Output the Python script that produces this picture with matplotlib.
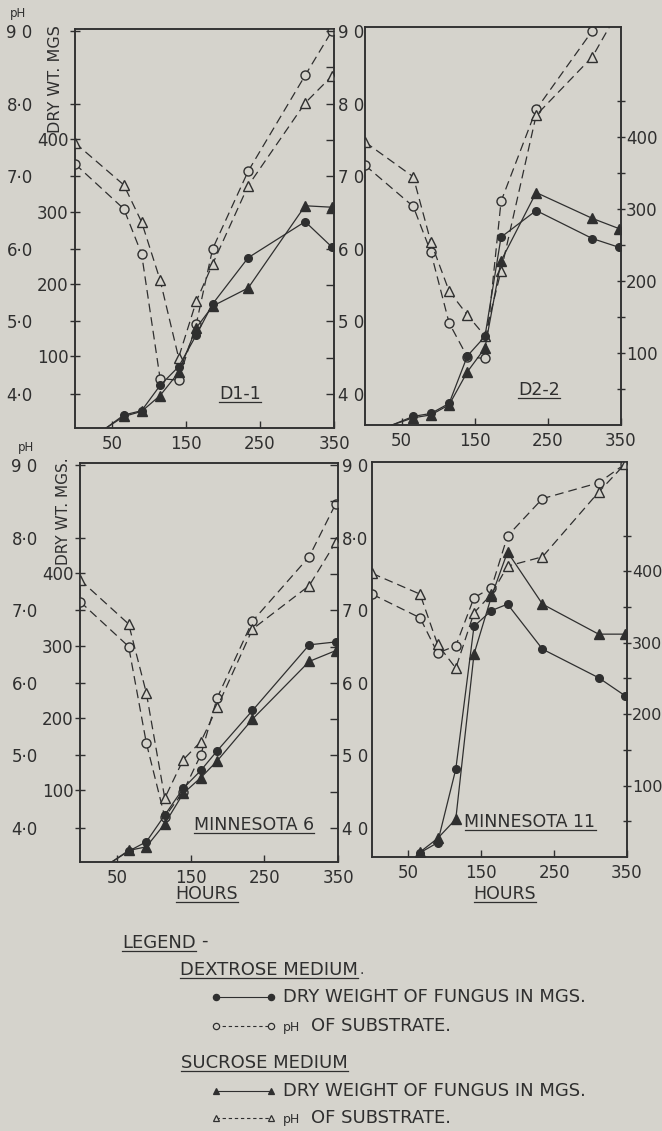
import numpy as np
import matplotlib
matplotlib.use("Agg")
import matplotlib.pyplot as plt
from matplotlib.lines import Line2D

# ---------------- data ----------------
HOURS = [0, 66, 90, 115, 140, 164, 186, 234, 311, 347]
X_TICKS = [50, 150, 250, 350]
PH_TICKS = [4, 5, 6, 7, 8, 9]
WT_TICKS = [100, 200, 300, 400]
PANEL_NAMES = ["D1-1", "D2-2", "MINNESOTA 6", "MINNESOTA 11"]

# pH of substrate (dextrose = circles, sucrose = triangles)
d11_ph_dex = [7.17, 6.55, 5.93, 4.21, 4.19, 4.97, 6.00, 7.07, 8.39, 9.00]
d11_ph_suc = [7.46, 6.88, 6.37, 5.57, 4.50, 5.28, 5.79, 6.87, 8.01, 8.38]
d22_ph_dex = [7.12, 6.55, 5.92, 4.94, 4.47, 4.45, 6.62, 7.89, 8.98, 9.35]
d22_ph_suc = [7.44, 6.96, 6.06, 5.38, 5.05, 4.76, 5.66, 7.81, 8.62, 9.26]
m6_ph_dex = [7.12, 6.50, 5.17, 4.15, 4.50, 5.01, 5.79, 6.85, 7.74, 8.47]
m6_ph_suc = [7.42, 6.81, 5.86, 4.41, 4.94, 5.19, 5.66, 6.74, 7.34, 7.94]
m11_ph_dex = [7.19, 6.86, 6.37, 6.47, 7.14, 7.28, 8.00, 8.52, 8.74, 9.00]
m11_ph_suc = [7.48, 7.19, 6.49, 6.16, 6.93, 7.19, 7.58, 7.71, 8.61, 9.00]

# dry weight of fungus in mgs (first sample not shown)
d11_wt_dex = [None, 18, 24, 59, 85, 129, 172, 236, 286, 251]
d11_wt_suc = [None, 16, 23, 45, 77, 139, 169, 194, 308, 306]
d22_wt_dex = [None, 12, 16, 30, 96, 123, 261, 298, 259, 247]
d22_wt_suc = [None, 10, 14, 28, 74, 107, 228, 323, 287, 273]
m6_wt_dex = [None, 15, 28, 65, 102, 127, 154, 210, 301, 305]
m6_wt_suc = [None, 16, 21, 53, 95, 117, 140, 198, 278, 293]
m11_wt_dex = [None, 6, 20, 123, 323, 345, 354, 291, 251, 226]
m11_wt_suc = [None, 7, 26, 53, 284, 365, 427, 354, 312, 312]

# hour at which the growth curves leave the zero line
WT_ORIGIN_HOURS = [42, 37, 43, None]

PH_LEFT_LABELS = [["4·0", "5·0", "6·0", "7·0", "8·0", "9 0"],
                  None,
                  ["4·0", "5·0", "6·0", "7·0", "8·0", "9 0"],
                  None]
PH_RIGHT_LABELS = [["4 0", "5 0", "6 0", "7 0", "8 0", "9 0"],
                   None,
                   ["4 0", "5 0", "6 0", "7 0", "8·0", "9 0"],
                   None]

# ---------------- style ----------------
BG = "#d5d3cc"
INK = "#2f2f2f"
W, H = 662, 1131
PH_LIM = (3.53, 9.03)
WT_LIM = (0, 553)
X_LIM = (0, 350)

plt.rcParams['font.family'] = ['DejaVu Sans']
fig = plt.figure(figsize=(W / 100, H / 100), dpi=100)
fig.patch.set_facecolor(BG)


def px_rect(l, t, r, b):
    return [l / W, 1 - b / H, (r - l) / W, (b - t) / H]


RECTS = [px_rect(75, 29, 334, 428), px_rect(365, 27, 621, 425),
         px_rect(80, 463, 338, 862), px_rect(372, 462, 627, 857)]
LEFT_SIDE = [True, False, True, False]

ph_dex_all = [d11_ph_dex, d22_ph_dex, m6_ph_dex, m11_ph_dex]
ph_suc_all = [d11_ph_suc, d22_ph_suc, m6_ph_suc, m11_ph_suc]
wt_dex_all = [d11_wt_dex, d22_wt_dex, m6_wt_dex, m11_wt_dex]
wt_suc_all = [d11_wt_suc, d22_wt_suc, m6_wt_suc, m11_wt_suc]

DASH = (0, (7, 4))
LW = 0.9

for i in range(4):
    ax = fig.add_axes(RECTS[i])
    ax.set_facecolor('none')
    ax.set_xlim(X_LIM)
    ax.set_ylim(PH_LIM)
    axw = ax.twinx()
    axw.set_ylim(WT_LIM)
    for a in (ax, axw):
        for s in a.spines.values():
            s.set_color(INK)
            s.set_linewidth(1.1)
    ax.set_xticks(X_TICKS)
    ax.set_xticklabels([str(v) for v in X_TICKS])
    ax.tick_params(axis='x', direction='in', length=5, width=1, color=INK,
                   labelsize=12, labelcolor=INK, pad=5)
    if LEFT_SIDE[i]:
        ax.set_yticks(PH_TICKS)
        ax.set_yticklabels(PH_LEFT_LABELS[i])
        ax.tick_params(axis='y', left=True, right=False, direction='inout',
                       length=7, width=1, color=INK, labelsize=12,
                       labelcolor=INK, pad=27)
        axw.yaxis.tick_left()
        axw.set_yticks(WT_TICKS)
        axw.set_yticklabels([str(v) for v in WT_TICKS])
        axw.tick_params(axis='y', direction='inout', length=7, width=1,
                        color=INK, labelsize=12, labelcolor=INK, pad=1)
        axr = ax.twinx()
        axr.set_ylim(PH_LIM)
        rt = np.arange(4, 9.01, 0.5)
        axr.set_yticks(rt)
        labs = []
        k = 0
        for v in rt:
            if abs(v - round(v)) < 1e-6:
                labs.append(PH_RIGHT_LABELS[i][k])
                k += 1
            else:
                labs.append("")
        axr.set_yticklabels(labs)
        axr.tick_params(axis='y', direction='in', length=6, width=1,
                        color=INK, labelsize=12, labelcolor=INK, pad=3)
        for s in axr.spines.values():
            s.set_visible(False)
    else:
        ax.set_yticks([])
        wt = np.arange(50, 451, 50)
        axw.set_yticks(wt)
        axw.set_yticklabels([str(v) if v % 100 == 0 else "" for v in wt])
        axw.tick_params(axis='y', direction='inout', length=6, width=1,
                        color=INK, labelsize=11.5 if i == 3 else 12,
                        labelcolor=INK, pad=0.5)

    # pH curves (dashed)
    ax.plot(HOURS, ph_dex_all[i], linestyle=DASH, lw=LW, color=INK,
            marker='o', ms=6.5, mfc=BG, mec=INK, mew=1.0, zorder=3)
    ax.plot(HOURS, ph_suc_all[i], linestyle=DASH, lw=LW, color=INK,
            marker='^', ms=7, mfc=BG, mec=INK, mew=1.0, zorder=3)

    # dry weight curves (solid)
    for series, mk, ms in ((wt_dex_all[i], 'o', 5.5), (wt_suc_all[i], '^', 6.5)):
        xs = HOURS[1:]
        ys = series[1:]
        if WT_ORIGIN_HOURS[i] is not None:
            axw.plot([WT_ORIGIN_HOURS[i], xs[0]], [0, ys[0]], '-', lw=LW,
                     color=INK, zorder=4)
        axw.plot(xs, ys, '-', lw=LW, color=INK, marker=mk, ms=ms,
                 mfc=INK, mec=INK, zorder=4)

# ---------------- overlay texts ----------------
ov = fig.add_axes([0, 0, 1, 1])
ov.set_xlim(0, W)
ov.set_ylim(H, 0)
ov.axis('off')
ov.patch.set_visible(False)

TXT = dict(color=INK, family='DejaVu Sans')
underline = []

ov.text(18, 13, "pH", fontsize=8.5, ha='center', va='center', **TXT)
ov.text(56, 79, "DRY WT. MGS", fontsize=11.5, rotation=90, ha='center', va='center', **TXT)
ov.text(26, 447, "pH", fontsize=8.5, ha='center', va='center', **TXT)
ov.text(63, 511, "DRY WT. MGS.", fontsize=11, rotation=90, ha='center', va='center', **TXT)

NAME_POS = [(240, 394), (539, 390), (254, 825), (530, 822)]
for name, (x, y) in zip(PANEL_NAMES, NAME_POS):
    underline.append(ov.text(x, y, name, fontsize=12.5, ha='center', va='center', **TXT))

underline.append(ov.text(207, 894, "HOURS", fontsize=12.5, ha='center', va='center', **TXT))
underline.append(ov.text(505, 894, "HOURS", fontsize=12.5, ha='center', va='center', **TXT))

# legend
underline.append(ov.text(122, 943, "LEGEND", fontsize=13, ha='left', va='center', **TXT))
ov.text(201, 941, "-", fontsize=13, ha='left', va='center', **TXT)
dex_head = ov.text(180, 970, "DEXTROSE MEDIUM", fontsize=13, ha='left', va='center', **TXT)
underline.append(dex_head)
underline.append(ov.text(181, 1063, "SUCROSE MEDIUM", fontsize=13, ha='left', va='center', **TXT))

LEG_ROWS = [(997, 'o', '-', INK, 4.5, "DRY WEIGHT OF FUNGUS IN MGS."),
            (1026, 'o', '--', BG, 4.5, "OF SUBSTRATE."),
            (1091, '^', '-', INK, 5, "DRY WEIGHT OF FUNGUS IN MGS."),
            (1118, '^', '--', BG, 5, "OF SUBSTRATE.")]
for y, mk, ls, fc, ms, label in LEG_ROWS:
    ov.plot([216, 271], [y, y], linestyle=(0, (3, 2.5)) if ls == '--' else '-',
            lw=0.8, color=INK, marker=mk, ms=ms, mfc=fc, mec=INK, mew=0.9)
    if label.startswith("OF"):
        ov.text(283, y + 1, "pH", fontsize=9, ha='left', va='center', **TXT)
        ov.text(311, y, label, fontsize=13, ha='left', va='center', **TXT)
    else:
        ov.text(283, y, label, fontsize=13, ha='left', va='center', **TXT)

fig.canvas.draw()
r = fig.canvas.get_renderer()
bbd = dex_head.get_window_extent(r)
ov.text(bbd.x1 + 2, 970, ".", fontsize=10, ha='left', va='center', **TXT)
for t in underline:
    bb = t.get_window_extent(r)
    yy = bb.y0 + 1
    fig.add_artist(Line2D([bb.x0 / W, bb.x1 / W], [yy / H, yy / H],
                          transform=fig.transFigure, color=INK, lw=0.9))

fig.savefig("out.png", dpi=100, facecolor=BG)
